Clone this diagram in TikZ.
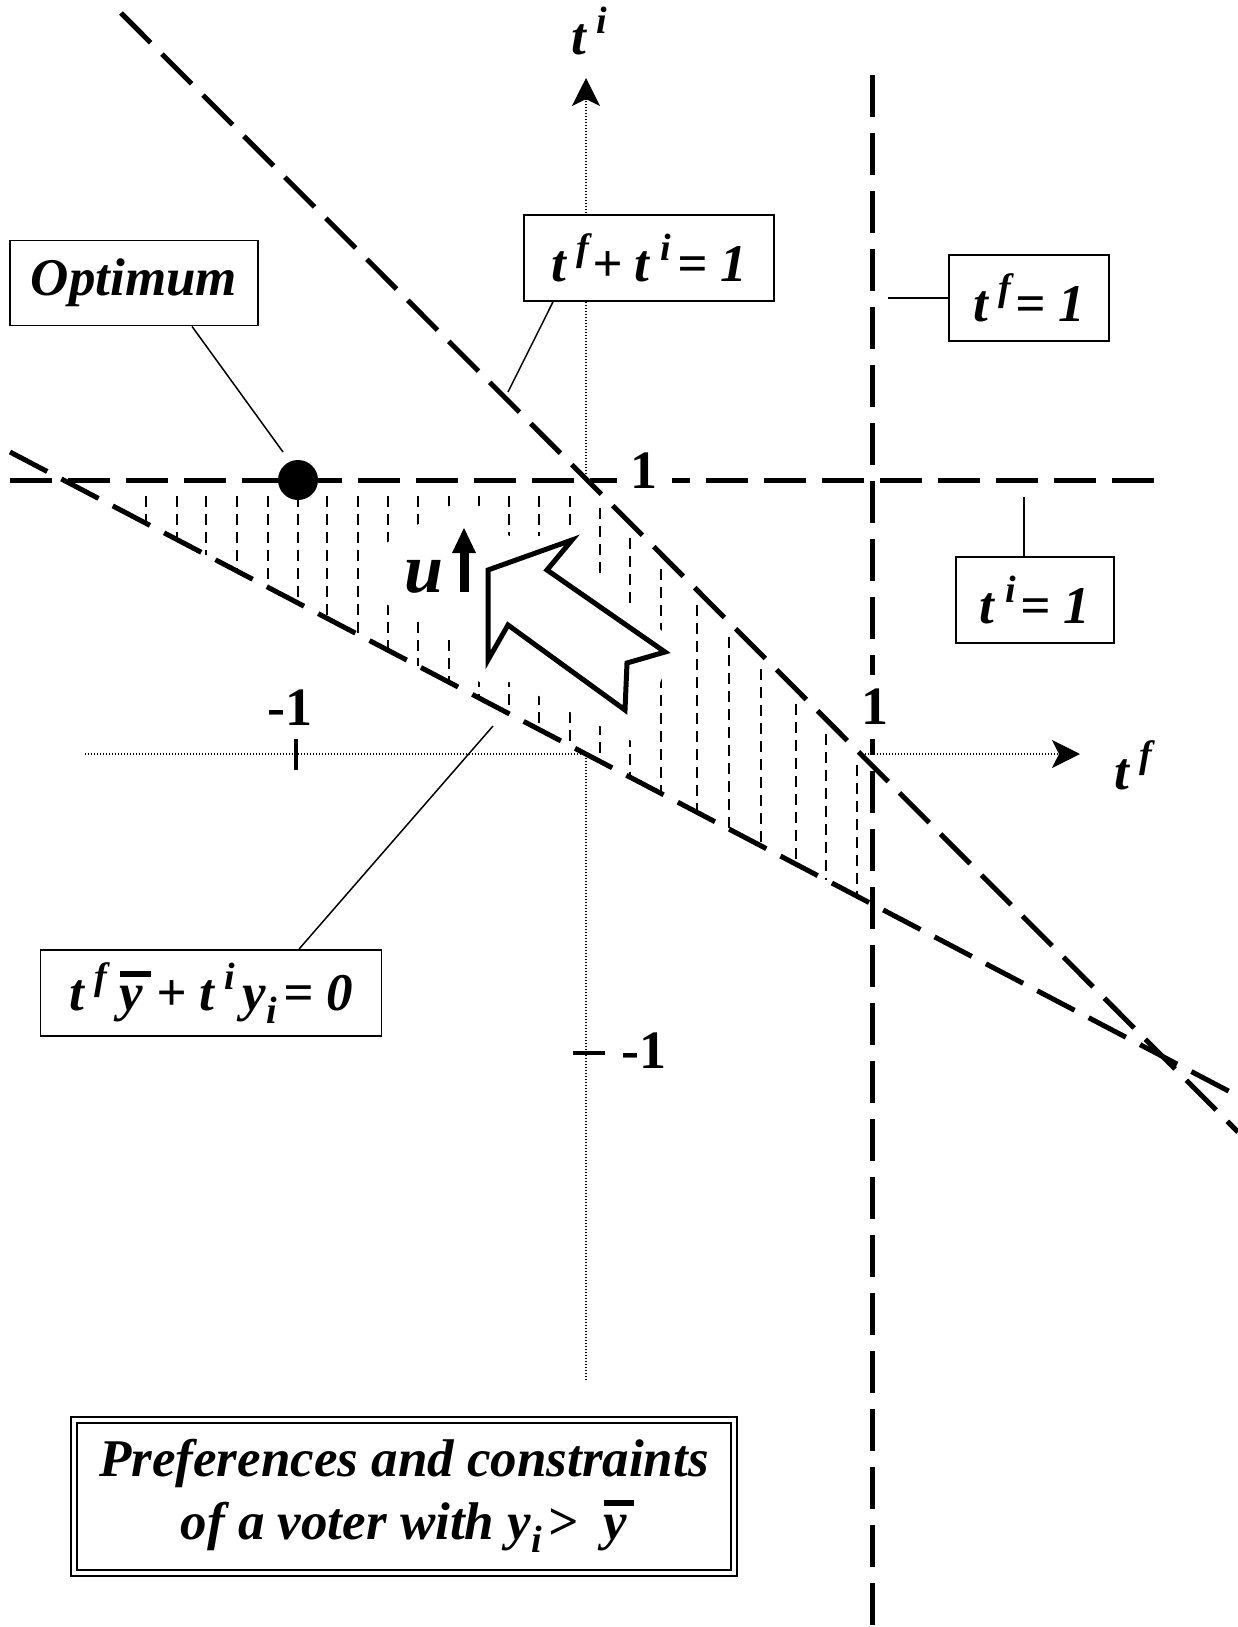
\documentclass[tikz,border=0pt]{standalone}
\usepackage{fontspec}
\setmainfont{Liberation Serif}
\usepackage{graphicx}
\usetikzlibrary{arrows.meta}
\newcommand\sups[1]{\raisebox{0.40em}{\scalebox{0.72}{#1}}}
\newcommand\subs[1]{\raisebox{-0.25em}{\scalebox{0.72}{#1}}}
\newcommand\ybar{\makebox[0pt][l]{\kern0.0em\rule[0.64em]{0.58em}{0.1em}}y}
\newcommand\gs{\kern0.2em}
\newcommand\go{\kern0.24em}
\newcommand\lbfont{\fontsize{53}{62}\selectfont\bfseries\itshape}
\newcommand\numfont{\fontsize{54}{62}\selectfont\bfseries}
\begin{document}
\begin{tikzpicture}[x=1pt,y=-1pt,
  big/.style={line width=5pt, dash pattern=on 42pt off 16pt},
  hatchline/.style={line width=1.6pt, dash pattern=on 11pt off 7pt},
  axisline/.style={line width=1.4pt, dash pattern=on 1.4pt off 1.6pt,
     -{Stealth[length=28pt,width=28pt,inset=7pt]}},
  lbl/.style={draw, line width=1.8pt, inner sep=0pt, fill=white, font=\lbfont},
  leader/.style={line width=1.5pt},
  num/.style={font=\numfont, fill=white},
  tick/.style={line width=4.5pt}
]
\useasboundingbox (0,0) rectangle (1238,1627);

% axes
\coordinate (xa) at (85,754);
\coordinate (xb) at (1080,754);
\coordinate (ya) at (586,1380);
\coordinate (yb) at (586,78);
\draw[axisline] (xa) -- (xb);
\draw[axisline] (ya) -- (yb);

% feasible region (white, hides axes)
\fill[white] (63,480) -- (588,480) -- (872,764) -- (872,904) -- cycle;

% hatching
\foreach \x in {146,177,206,237,268,298,327,358,388,418,449,479,509,539,570,600,630,661,697,729,761,796,826,857}{
  \pgfmathsetmacro\yt{max(480,\x-108)+16}
  \pgfmathsetmacro\yb{452+0.5243*(\x-10)}
  \draw[hatchline] (\x,\yt) -- (\x,\yb);
}

% white area around the arrow and u
\fill[white] (378,548) -- (449,506) -- (482,506) -- (509,536) -- (545,536) -- (570,525)
  -- (600,578) -- (630,608) -- (661,630) -- (676,652) -- (661,680) -- (640,745)
  -- (600,726) -- (570,712) -- (539,696) -- (509,682) -- (479,682) -- (449,636)
  -- (418,620) -- (378,600) -- cycle;

% big dashed lines
\coordinate (h1) at (10,480);
\coordinate (h2) at (1161,480);
\coordinate (v1) at (872,75);
\coordinate (v2) at (872,1627);
\coordinate (d1) at (121,13);
\coordinate (d2) at (1238,1132);
\coordinate (e1) at (10,452);
\coordinate (e2) at (1238,1096);
\draw[big] (h1) -- (h2);
\draw[big] (v1) -- (v2);
\draw[big] (d1) -- (d2);
\draw[big] (e1) -- (e2);

% ticks
\draw[tick] (296,739) -- (296,770);
\draw[tick] (573,1053) -- (605,1053);

% optimum dot
\node[circle, fill=black, minimum size=40pt, inner sep=0pt] (dot) at (298,480) {};

% block arrow
\draw[line width=5pt, fill=white, line join=miter]
  (488,570) -- (572,540) -- (547,570) -- (665,652) -- (627,663) -- (625,710)
  -- (508,625) -- (488,660) -- cycle;

% u and small arrow
\node[anchor=base west, inner sep=0pt, font=\fontsize{70}{80}\selectfont\bfseries\itshape] (u) at (404,592) {u};
\draw[line width=9pt] (464,592) -- (464,548);
\fill (464,528) -- (452,553) -- (476,553) -- cycle;

% numbers
\node[num, inner xsep=14pt, inner ysep=2pt] (one1) at (644,471) {1};
\node[num, inner xsep=2pt, inner ysep=14pt] (one2) at (875,707) {1};
\node[font=\numfont, inner sep=0pt] (m1a) at (290,708) {-1};
\node[font=\numfont, inner sep=0pt] (m1b) at (644,1051) {-1};

% axis labels
\node[anchor=base west, inner sep=0pt, font=\lbfont] (tiax) at (571,55) {t\gs\sups{i}};
\node[anchor=base west, inner sep=0pt, font=\lbfont] (tfax) at (1114,789) {t\gs\sups{f}};

% label boxes
\node[lbl, minimum width=248pt, minimum height=85pt] (opt) at (134,283) {Optimum};
\node[lbl, minimum width=250pt, minimum height=86pt] (sum) at (649,258)
  {t\gs\sups{f}\kern0.05em+\go t\gs\sups{i}\kern0.12em=\go 1};
\node[lbl, minimum width=160pt, minimum height=86pt] (tf1) at (1029,298) {t\gs\sups{f}\kern0.08em=\go 1};
\node[lbl, minimum width=158pt, minimum height=86pt] (ti1) at (1035,600) {t\gs\sups{i}\kern0.1em=\go 1};
\node[lbl, minimum width=341pt, minimum height=86pt] (eq) at (211,993)
  {t\gs\sups{f}\go\ybar\go+\go t\gs\sups{i}\kern0.15em y\subs{i}\kern0.12em=\go 0};

% title
\node[draw, double, double distance=4pt, line width=2pt, minimum width=660pt, minimum height=153pt,
      inner sep=0pt, align=center, font=\fontsize{53}{63}\selectfont\bfseries\itshape] (title) at (404,1496)
  {Preferences and constraints\\of a voter with y\subs{i}\kern0.1em>\enspace\ybar};

% leaders
\coordinate (optP) at (283,452);
\coordinate (sumP) at (508,392);
\coordinate (tf1P) at (888,298);
\coordinate (ti1P) at (1024,497);
\coordinate (eqP) at (493,726);
\draw[leader] ([xshift=58pt]opt.south) -- (optP);
\draw[leader] ([xshift=-96pt]sum.south) -- (sumP);
\draw[leader] (tf1.west) -- (tf1P);
\draw[leader] ([xshift=-11pt]ti1.north) -- (ti1P);
\draw[leader] ([xshift=88pt]eq.north) -- (eqP);
\end{tikzpicture}
\end{document}
